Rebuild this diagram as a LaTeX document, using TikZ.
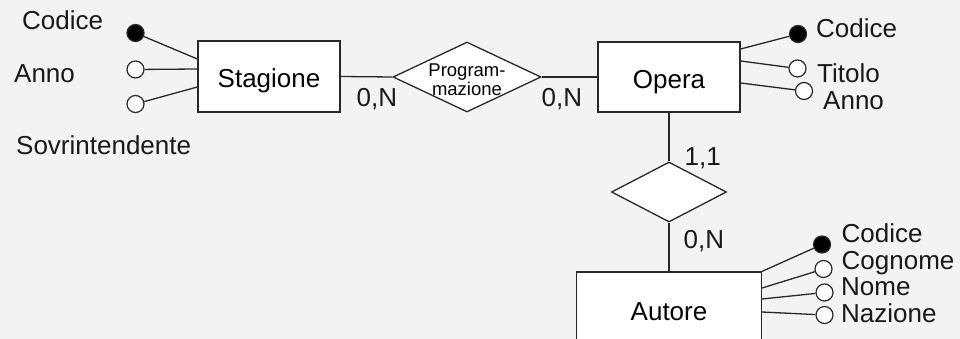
\documentclass[tikz,border=0pt]{standalone}
\usepackage{fontspec}
\setmainfont{Liberation Sans}
\usetikzlibrary{shapes}
\definecolor{bggray}{RGB}{243,243,243}
\definecolor{linegray}{RGB}{40,40,40}
\tikzset{
  entity/.style={
    draw=linegray, fill=white, line width=1.3pt,
    minimum width=142pt, minimum height=71pt, inner sep=0,
    text height=23pt, text depth=0pt,
    font=\fontsize{26}{30}\selectfont
  },
  relation/.style={draw=linegray, fill=white, line width=1.3pt, diamond, inner sep=0},
  attr/.style={circle, draw=linegray, fill=white, line width=1.2pt, minimum size=17pt, inner sep=0},
  key/.style={attr, fill=black},
  lbl/.style={inner sep=0, anchor=base west, text=black!90, font=\fontsize{26}{30}\selectfont},
  conn/.style={draw=linegray, line width=1.3pt}
}

\begin{document}
\begin{tikzpicture}[x=1pt,y=-1pt]
  \useasboundingbox (0,0) rectangle (960,339);
  \fill[bggray] (0,0) rectangle (960,339);
  \clip (0,0) rectangle (960,339);

  % entities and relations
  \node[entity] (stag) at (269,76.5) {Stagione};
  \node[entity, minimum height=70pt] (opera) at (669,77) {Opera};
  \node[entity, minimum width=185pt, minimum height=73pt] (autore) at (669,308.5) {Autore};
  \node[relation, minimum width=148pt, minimum height=70pt] (prog) at (467,77) {};
  \node[align=center, inner sep=0, font=\fontsize{18.5}{18.5}\selectfont] (progtxt) at (467,79.5) {Program-\\mazione};
  \node[relation, minimum width=115pt, minimum height=60pt] (scrive) at (669,192) {};

  \draw[conn] (stag.east) -- (prog.west);
  \draw[conn] (prog.east) -- (opera.west);
  \draw[conn] (opera.south) -- (scrive.north);
  \draw[conn] (scrive.south) -- (autore.north);

  % cardinalities
  \node[lbl] (c1) at (356.5,106.5) {0,N};
  \node[lbl] (c2) at (541.5,106.5) {0,N};
  \node[lbl] (c3) at (684.5,165) {1,1};
  \node[lbl] (c4) at (683.5,248) {0,N};

  % attributes of Stagione
  \node[key] (sa1) at (135.5,33) {};
  \node[attr] (sa2) at (135.5,69.5) {};
  \node[attr] (sa3) at (135.5,104) {};
  \draw[conn] (sa1) -- ([yshift=17.5pt]stag.west);
  \draw[conn] (sa2) -- ([yshift=7.5pt]stag.west);
  \draw[conn] (sa3) -- ([yshift=-10.5pt]stag.west);
  \node[lbl] (sl1) at (22,30) {Codice};
  \node[lbl] (sl2) at (14,83) {Anno};
  \node[lbl] (sl3) at (16,155) {Sovrintendente};

  % attributes of Opera
  \node[key] (oa1) at (798,34) {};
  \node[attr] (oa2) at (797.5,68.5) {};
  \node[attr] (oa3) at (804,91) {};
  \draw[conn] (oa1) -- ([yshift=28pt]opera.east);
  \draw[conn] (oa2) -- ([yshift=16pt]opera.east);
  \draw[conn] (oa3) -- ([yshift=-6pt]opera.east);
  \node[lbl] (ol1) at (816,38) {Codice};
  \node[lbl] (ol2) at (817,83) {Titolo};
  \node[lbl] (ol3) at (823,110) {Anno};

  % attributes of Autore
  \node[key] (aa1) at (822,244.5) {};
  \node[attr] (aa2) at (823.5,269) {};
  \node[attr] (aa3) at (824.5,292.5) {};
  \node[attr] (aa4) at (824.5,315) {};
  \draw[conn] (aa1) -- (autore.north east);
  \draw[conn] (aa2) -- ([yshift=20.5pt]autore.east);
  \draw[conn] (aa3) -- ([yshift=9.5pt]autore.east);
  \draw[conn] (aa4) -- ([yshift=-3.5pt]autore.east);
  \node[lbl] (al1) at (841.5,242) {Codice};
  \node[lbl] (al2) at (841.5,269) {Cognome};
  \node[lbl] (al3) at (841,295.5) {Nome};
  \node[lbl] (al4) at (841,322) {Nazione};
\end{tikzpicture}
\end{document}
